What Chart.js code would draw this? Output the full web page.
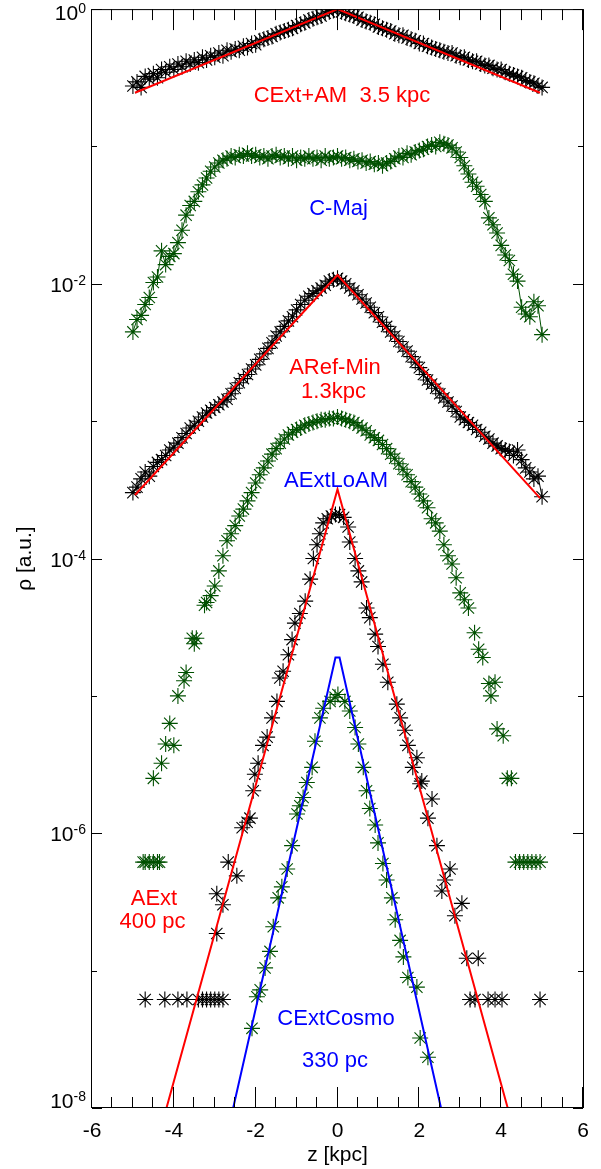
<!DOCTYPE html>
<html>
<head>
<meta charset="utf-8">
<script src="https://cdn.jsdelivr.net/npm/chart.js@4.4.1/dist/chart.umd.min.js"></script>
<style>
  html, body { margin: 0; padding: 0; background: #fff; }
  #wrap { width: 601px; height: 1169px; position: relative; }
</style>
</head>
<body>
<div id="wrap"><canvas id="profiles"></canvas></div>
<script>
// z grid (kpc) of the densely sampled profiles
const zGrid = [
  -5.0, -4.9, -4.8, -4.7, -4.6, -4.5, -4.4, -4.3, -4.2, -4.1,
  -4.0, -3.9, -3.8, -3.7, -3.6, -3.5, -3.4, -3.3, -3.2, -3.1,
  -3.0, -2.9, -2.8, -2.7, -2.6, -2.5, -2.4, -2.3, -2.2, -2.1,
  -2.0, -1.9, -1.8, -1.7, -1.6, -1.5, -1.4, -1.3, -1.2, -1.1,
  -1.0, -0.9, -0.8, -0.7, -0.6, -0.5, -0.4, -0.3, -0.2, -0.1,
  0.0, 0.1, 0.2, 0.3, 0.4, 0.5, 0.6, 0.7, 0.8, 0.9,
  1.0, 1.1, 1.2, 1.3, 1.4, 1.5, 1.6, 1.7, 1.8, 1.9,
  2.0, 2.1, 2.2, 2.3, 2.4, 2.5, 2.6, 2.7, 2.8, 2.9,
  3.0, 3.1, 3.2, 3.3, 3.4, 3.5, 3.6, 3.7, 3.8, 3.9,
  4.0, 4.1, 4.2, 4.3, 4.4, 4.5, 4.6, 4.7, 4.8, 4.9,
  5.0
];

// log10(rho) on zGrid
const cextAmLog = [
  -0.56, -0.53, -0.57, -0.49, -0.51, -0.47, -0.50, -0.44, -0.46, -0.42,
  -0.44, -0.40, -0.42, -0.38, -0.40, -0.37, -0.39, -0.35, -0.37, -0.34,
  -0.35, -0.32, -0.34, -0.30, -0.31, -0.29, -0.30, -0.27, -0.28, -0.25,
  -0.26, -0.23, -0.22, -0.21, -0.20, -0.18, -0.17, -0.16, -0.15, -0.14,
  -0.12, -0.11, -0.10, -0.08, -0.07, -0.06, -0.05, -0.03, -0.02, -0.01,
  0.00, -0.02, -0.03, -0.04, -0.05, -0.06, -0.08, -0.09, -0.10, -0.11,
  -0.13, -0.14, -0.15, -0.16, -0.18, -0.19, -0.19, -0.21, -0.22, -0.23,
  -0.25, -0.25, -0.27, -0.28, -0.29, -0.30, -0.31, -0.32, -0.32, -0.34,
  -0.35, -0.35, -0.37, -0.38, -0.38, -0.40, -0.41, -0.41, -0.43, -0.44,
  -0.44, -0.46, -0.47, -0.48, -0.49, -0.50, -0.52, -0.53, -0.54, -0.56,
  -0.57
];

const cMajLog = [
  -2.35, -2.26, -2.23, -2.15, -2.10, -1.99, -1.95, -1.76, -1.86, -1.80,
  -1.78, -1.70, -1.61, -1.50, -1.43, -1.40, -1.33, -1.28, -1.23, -1.18,
  -1.15, -1.12, -1.10, -1.09, -1.07, -1.08, -1.06, -1.07, -1.05, -1.07,
  -1.06, -1.08, -1.07, -1.09, -1.07, -1.06, -1.08, -1.07, -1.09, -1.07,
  -1.10, -1.08, -1.09, -1.07, -1.09, -1.08, -1.10, -1.07, -1.09, -1.08,
  -1.07, -1.09, -1.08, -1.10, -1.09, -1.11, -1.10, -1.12, -1.11, -1.13,
  -1.12, -1.14, -1.12, -1.11, -1.09, -1.07, -1.08, -1.05, -1.06, -1.04,
  -1.03, -1.02, -1.00, -0.99, -1.00, -0.97, -0.98, -0.99, -1.01, -1.04,
  -1.08, -1.14, -1.20, -1.26, -1.29, -1.35, -1.40, -1.52, -1.57, -1.63,
  -1.72, -1.79, -1.83, -1.93, -1.98, -2.17, -2.22, -2.24, -2.13, -2.16,
  -2.37
];

const arefMinLog = [
  -3.52, -3.48, -3.42, -3.37, -3.40, -3.33, -3.30, -3.28, -3.25, -3.21,
  -3.19, -3.16, -3.12, -3.09, -3.05, -3.03, -3.00, -2.97, -2.94, -2.92,
  -2.90, -2.88, -2.86, -2.84, -2.80, -2.76, -2.72, -2.69, -2.66, -2.62,
  -2.59, -2.55, -2.51, -2.47, -2.43, -2.38, -2.35, -2.31, -2.27, -2.24,
  -2.19, -2.15, -2.12, -2.09, -2.07, -2.05, -2.03, -2.01, -1.98, -1.97,
  -1.96, -1.98, -2.00, -2.03, -2.05, -2.08, -2.11, -2.14, -2.17, -2.21,
  -2.24, -2.28, -2.31, -2.35, -2.38, -2.42, -2.46, -2.49, -2.53, -2.57,
  -2.61, -2.66, -2.70, -2.73, -2.76, -2.80, -2.83, -2.86, -2.89, -2.93,
  -2.97, -2.99, -3.01, -3.03, -3.06, -3.08, -3.11, -3.13, -3.16, -3.18,
  -3.20, -3.21, -3.22, -3.25, -3.21, -3.28, -3.34, -3.37, -3.42, -3.40,
  -3.55
];

// sparser profiles: [z, log10 rho]
const aextLoAm = [
  [-4.75, -6.21], [-4.7, -6.21], [-4.6, -6.21], [-4.5, -6.21], [-4.4, -6.21], [-4.35, -6.21],
  [-4.5, -5.60], [-4.3, -5.49], [-4.2, -5.35], [-4.1, -5.20], [-4.0, -5.36], [-3.9, -5.00],
  [-3.75, -4.89], [-3.7, -4.83], [-3.55, -4.58], [-3.5, -4.62], [-3.45, -4.58], [-3.25, -4.34],
  [-3.2, -4.32], [-3.1, -4.27], [-3.0, -4.20], [-2.9, -4.09], [-2.8, -3.98], [-2.7, -3.87],
  [-2.6, -3.82], [-2.5, -3.76], [-2.4, -3.69], [-2.3, -3.64],
  [-2.2, -3.58], [-2.1, -3.52], [-2.0, -3.45], [-1.9, -3.39], [-1.8, -3.34], [-1.7, -3.29],
  [-1.6, -3.24], [-1.5, -3.20], [-1.4, -3.16], [-1.3, -3.13], [-1.2, -3.10], [-1.1, -3.08],
  [-1.0, -3.06], [-0.9, -3.05], [-0.8, -3.03], [-0.7, -3.02], [-0.6, -3.01], [-0.5, -3.00],
  [-0.4, -2.99], [-0.3, -2.99], [-0.2, -2.98], [-0.1, -2.98], [0.0, -2.97], [0.1, -2.98],
  [0.2, -2.99], [0.3, -3.00], [0.4, -3.01], [0.5, -3.03], [0.6, -3.05], [0.7, -3.07],
  [0.8, -3.10], [0.9, -3.12], [1.0, -3.14], [1.1, -3.17], [1.2, -3.20], [1.3, -3.24],
  [1.4, -3.27], [1.5, -3.31], [1.6, -3.35], [1.7, -3.39], [1.8, -3.44], [1.9, -3.48],
  [2.0, -3.53], [2.1, -3.58],
  [2.2, -3.63], [2.3, -3.71], [2.4, -3.74], [2.5, -3.80], [2.6, -3.90], [2.7, -3.98],
  [2.8, -4.04], [2.9, -4.14], [3.0, -4.25], [3.1, -4.30], [3.2, -4.36], [3.35, -4.54],
  [3.45, -4.66], [3.55, -4.72], [3.7, -4.91], [3.75, -5.00], [3.85, -4.90], [3.9, -5.24],
  [4.05, -5.29], [4.15, -5.60], [4.25, -5.60],
  [4.35, -6.21], [4.45, -6.21], [4.55, -6.21], [4.65, -6.21], [4.75, -6.21], [4.85, -6.21], [4.95, -6.21]
];

const aext = [
  [-4.7, -7.21], [-4.22, -7.21], [-3.9, -7.21], [-3.68, -7.21], [-3.4, -7.21], [-3.3, -7.21],
  [-3.2, -7.21], [-3.1, -7.21], [-3.0, -7.21], [-2.9, -7.21], [-2.8, -7.21],
  [-2.95, -6.73], [-2.95, -6.44], [-2.8, -6.52], [-2.67, -6.21], [-2.46, -6.31], [-2.33, -5.96],
  [-2.21, -5.92], [-2.14, -5.89], [-2.06, -5.69], [-2.02, -5.57], [-1.94, -5.49], [-1.82, -5.36],
  [-1.72, -5.30], [-1.6, -5.16], [-1.48, -5.04], [-1.41, -4.87], [-1.33, -4.82], [-1.2, -4.70],
  [-1.11, -4.59], [-1.04, -4.47], [-0.92, -4.40], [-0.79, -4.31], [-0.67, -4.15], [-0.59, -4.00],
  [-0.5, -3.90], [-0.43, -3.82], [-0.35, -3.74], [-0.25, -3.71], [-0.15, -3.69], [-0.05, -3.68],
  [0.05, -3.68], [0.15, -3.70], [0.26, -3.77], [0.3, -3.88], [0.43, -4.00], [0.51, -4.09],
  [0.59, -4.17], [0.71, -4.36], [0.79, -4.43], [0.92, -4.55], [0.99, -4.64], [1.11, -4.77],
  [1.23, -4.90], [1.45, -5.06], [1.53, -5.16], [1.65, -5.25], [1.72, -5.36], [1.84, -5.52],
  [1.94, -5.45], [2.02, -5.64], [2.06, -5.62], [2.21, -5.89], [2.31, -5.75], [2.43, -6.09],
  [2.55, -6.42], [2.63, -6.34], [2.75, -6.26], [2.87, -6.60], [3.04, -6.51], [3.16, -6.91],
  [3.44, -6.91],
  [3.24, -7.21], [3.36, -7.21], [3.68, -7.21], [3.85, -7.21], [4.02, -7.21], [4.95, -7.21]
];

const cextCosmo = [
  [-2.09, -7.42], [-1.97, -7.19], [-1.89, -7.14], [-1.77, -6.98], [-1.65, -6.86], [-1.57, -6.68],
  [-1.45, -6.47], [-1.36, -6.39], [-1.23, -6.26], [-1.11, -6.09], [-0.99, -5.86], [-0.92, -5.80],
  [-0.84, -5.74], [-0.75, -5.63], [-0.62, -5.52], [-0.55, -5.33], [-0.43, -5.16], [-0.35, -5.09],
  [-0.18, -5.04], [-0.06, -5.01], [0.01, -4.99], [0.18, -5.04], [0.3, -5.11], [0.43, -5.23],
  [0.51, -5.35], [0.63, -5.52], [0.71, -5.69], [0.79, -5.82], [0.92, -5.94], [0.99, -6.07],
  [1.11, -6.22], [1.2, -6.34], [1.33, -6.47], [1.41, -6.63], [1.53, -6.78], [1.61, -6.90],
  [1.72, -7.05], [1.94, -7.12], [2.02, -7.49], [2.21, -7.63]
];

// exponential fits, break points of the straight lines
const fitCextAmZ = [-4.95, 0, 4.95];
const fitCextAmRho = [0.246, 1.0, 0.246];
const fitArefZ = [-4.95, 0, 4.95];
const fitArefRho = [2.9e-4, 0.0116, 2.75e-4];
const fitAextZ = [-4.18, 0, 4.16];
const fitAextRho = [1e-8, 3.2e-4, 1e-8];
const fitCosmoZ = [-2.55, -0.05, 0.05, 2.53];
const fitCosmoRho = [1e-8, 1.9e-5, 1.9e-5, 1e-8];

// axis ticks
const xTickLabels = [-6, -4, -2, 0, 2, 4, 6];
const yTickExps = [0, -2, -4, -6, -8];

const BLACK = '#000000';
const GREEN = 'rgb(0,80,0)';
const RED = '#ff0000';
const BLUE = '#0000ff';
const FONT = '"Liberation Sans", Arial, Helvetica, sans-serif';

function gridPoints(logs) {
  return zGrid.map((z, i) => ({ x: z, y: Math.pow(10, logs[i]) }));
}
function pairPoints(pairs) {
  return pairs.map(p => ({ x: p[0], y: Math.pow(10, p[1]) }));
}
function fitPoints(zs, rhos) {
  return zs.map((z, i) => ({ x: z, y: rhos[i] }));
}

function stars(data, color, joined) {
  return {
    data: data,
    showLine: !!joined,
    borderColor: color,
    borderWidth: 1,
    pointStyle: 'star',
    pointRadius: 8,
    pointBorderWidth: 1.1,
    pointBorderColor: color,
    pointBackgroundColor: color
  };
}
function fit(data, color) {
  return {
    data: data,
    showLine: true,
    borderColor: color,
    borderWidth: 2,
    pointRadius: 0,
    fill: false
  };
}

// superscript tick labels, box, inward ticks and the curve labels
const decorations = {
  id: 'decorations',
  afterDatasetsDraw(chart) {
    const ctx = chart.ctx;
    const a = chart.chartArea;
    const xs = chart.scales.x;
    const ys = chart.scales.y;
    ctx.save();
    ctx.strokeStyle = BLACK;
    ctx.fillStyle = BLACK;
    ctx.lineWidth = 1;

    ctx.strokeRect(a.left - 0.5, a.top + 0.5, a.right - a.left + 1, a.bottom - a.top - 1);

    ctx.beginPath();
    for (let v = -6; v <= 6; v += 0.5) {
      const px = Math.round(xs.getPixelForValue(v)) - 0.5;
      const len = (v % 2 === 0) ? 21 : 11;
      ctx.moveTo(px, a.bottom);
      ctx.lineTo(px, a.bottom - len);
      ctx.moveTo(px, a.top);
      ctx.lineTo(px, a.top + len);
    }
    for (let e = 0; e >= -8; e--) {
      const py = Math.round(ys.getPixelForValue(Math.pow(10, e))) + 0.5;
      const len = (e % 2 === 0) ? 10 : 5;
      ctx.moveTo(a.left, py);
      ctx.lineTo(a.left + len, py);
      ctx.moveTo(a.right, py);
      ctx.lineTo(a.right - len, py);
    }
    ctx.stroke();

    ctx.textBaseline = 'alphabetic';
    ctx.font = '21px ' + FONT;
    ctx.textAlign = 'center';
    xTickLabels.forEach(v => {
      ctx.fillText(String(v), xs.getPixelForValue(v), 1137);
    });
    ctx.fillText('z [kpc]', (a.left + a.right) / 2, 1161);

    yTickExps.forEach(e => {
      const t = ys.getPixelForValue(Math.pow(10, e));
      const base = Math.min(Math.max(t + 8, 20), 1108);
      const sup = String(e);
      ctx.font = '14px ' + FONT;
      const ws = ctx.measureText(sup).width;
      ctx.font = '21px ' + FONT;
      const wb = ctx.measureText('10').width;
      ctx.textAlign = 'left';
      ctx.fillText('10', 86 - ws - wb, base);
      ctx.font = '14px ' + FONT;
      ctx.fillText(sup, 86 - ws, base - 7);
    });

    ctx.save();
    ctx.translate(31, (a.top + a.bottom) / 2);
    ctx.rotate(-Math.PI / 2);
    ctx.font = '21px ' + FONT;
    ctx.textAlign = 'center';
    ctx.fillText('ρ [a.u.]', 0, 0);
    ctx.restore();

    ctx.font = '22px ' + FONT;
    ctx.textAlign = 'center';
    const notes = [
      ['CExt+AM  3.5 kpc', 342, 102, RED],
      ['C-Maj', 338.5, 215, BLUE],
      ['ARef-Min', 335, 374, RED],
      ['1.3kpc', 333.5, 398, RED],
      ['AExtLoAM', 336, 487, BLUE],
      ['AExt', 154, 905, RED],
      ['400 pc', 152.5, 928, RED],
      ['CExtCosmo', 336, 1025, BLUE],
      ['330 pc', 335, 1067, BLUE]
    ];
    notes.forEach(n => {
      ctx.fillStyle = n[3];
      ctx.fillText(n[0], n[1], n[2]);
    });
    ctx.restore();
  }
};

document.addEventListener('DOMContentLoaded', function () {
  const ctx = document.getElementById('profiles').getContext('2d');
  new Chart(ctx, {
    type: 'scatter',
    data: {
      datasets: [
        fit(fitPoints(fitCextAmZ, fitCextAmRho), RED),
        fit(fitPoints(fitArefZ, fitArefRho), RED),
        fit(fitPoints(fitAextZ, fitAextRho), RED),
        fit(fitPoints(fitCosmoZ, fitCosmoRho), BLUE),
        stars(gridPoints(cextAmLog), BLACK, true),
        stars(gridPoints(cMajLog), GREEN, true),
        stars(gridPoints(arefMinLog), BLACK, true),
        stars(pairPoints(aextLoAm), GREEN, false),
        stars(pairPoints(aext), BLACK, false),
        stars(pairPoints(cextCosmo), GREEN, false)
      ]
    },
    options: {
      responsive: true,
      maintainAspectRatio: false,
      animation: false,
      events: [],
      layout: { padding: { left: 92, right: 18, top: 6, bottom: 61 } },
      plugins: {
        legend: { display: false },
        tooltip: { enabled: false }
      },
      scales: {
        x: { type: 'linear', display: false, min: -6, max: 6 },
        y: { type: 'logarithmic', display: false, min: 1e-8, max: 1 }
      }
    },
    plugins: [decorations]
  });
});
</script>
</body>
</html>
